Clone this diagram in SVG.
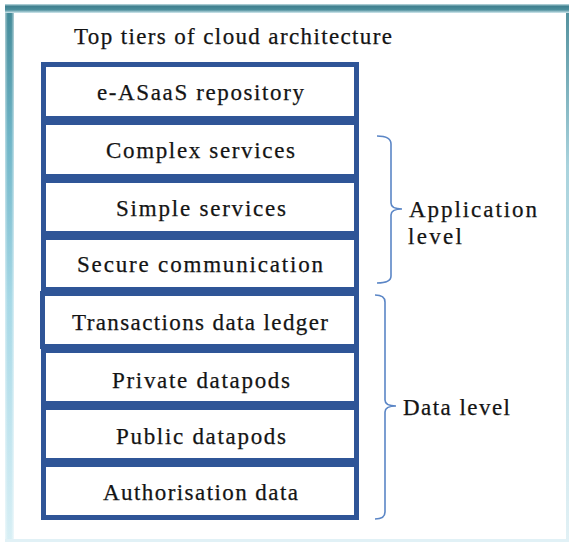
<svg xmlns="http://www.w3.org/2000/svg" width="571" height="544" viewBox="0 0 571 544">
  <defs>
    <linearGradient id="topBand" x1="0" y1="0" x2="0" y2="1">
      <stop offset="0" stop-color="#c4dfe4"/>
      <stop offset="0.25" stop-color="#3f808f"/>
      <stop offset="0.65" stop-color="#4d8f9d"/>
      <stop offset="1" stop-color="#d3e9ee"/>
    </linearGradient>
    <linearGradient id="leftBand" x1="0" y1="0" x2="0" y2="1">
      <stop offset="0" stop-color="#428896"/>
      <stop offset="0.25" stop-color="#6fb5c7"/>
      <stop offset="0.55" stop-color="#a6d8e6"/>
      <stop offset="1" stop-color="#d8eff5"/>
    </linearGradient>
    <linearGradient id="leftShade" x1="0" y1="0" x2="1" y2="0">
      <stop offset="0" stop-color="#ffffff" stop-opacity="0.55"/>
      <stop offset="0.3" stop-color="#ffffff" stop-opacity="0"/>
      <stop offset="0.7" stop-color="#ffffff" stop-opacity="0"/>
      <stop offset="1" stop-color="#ffffff" stop-opacity="0.6"/>
    </linearGradient>
    <linearGradient id="rightBand" x1="0" y1="0" x2="0" y2="1">
      <stop offset="0" stop-color="#4f8e9b"/>
      <stop offset="0.3" stop-color="#a9d3dd"/>
      <stop offset="1" stop-color="#e2f1f5"/>
    </linearGradient>
    <style>
      .tier rect { fill: #ffffff; stroke: #2f5597; stroke-width: 5; }
      .label { font-family: "Liberation Serif", "Times New Roman", serif; font-size: 23px; fill: #141414; stroke: #141414; stroke-width: 0.25; }
      .brace { fill: none; stroke: #5b86c6; stroke-width: 1.6; }
    </style>
  </defs>

  <!-- page background and frame -->
  <rect x="0" y="0" width="571" height="544" fill="#ffffff"/>
  <g id="frame">
    <rect x="5" y="4" width="9" height="538" fill="url(#leftBand)"/>
    <rect x="5" y="4" width="9" height="538" fill="url(#leftShade)"/>
    <rect x="566" y="4" width="3" height="538" fill="url(#rightBand)"/>
    <rect x="5" y="539" width="564" height="3" fill="#e1f1f6"/>
    <rect x="5" y="4" width="564" height="9" fill="url(#topBand)"/>
  </g>

  <text id="title" class="label" x="74" y="44" textLength="318" lengthAdjust="spacing">Top tiers of cloud architecture</text>

  <!-- stacked tiers -->
  <g id="tier-easaas" class="tier">
    <rect x="43.5" y="64.5" width="313" height="54"/>
    <text class="label" x="97" y="100" textLength="207" lengthAdjust="spacing">e-ASaaS repository</text>
  </g>
  <g id="tier-complex" class="tier">
    <rect x="43.5" y="122.5" width="313" height="54"/>
    <text class="label" x="106" y="158" textLength="189" lengthAdjust="spacing">Complex services</text>
  </g>
  <g id="tier-simple" class="tier">
    <rect x="43.5" y="180.5" width="313" height="53"/>
    <text class="label" x="116" y="216" textLength="170" lengthAdjust="spacing">Simple services</text>
  </g>
  <g id="tier-secure" class="tier">
    <rect x="43.5" y="237.5" width="313" height="52"/>
    <text class="label" x="77" y="272" textLength="246" lengthAdjust="spacing">Secure communication</text>
  </g>
  <g id="tier-ledger" class="tier">
    <rect x="42.5" y="293.5" width="314" height="53"/>
    <text class="label" x="72" y="330" textLength="256" lengthAdjust="spacing">Transactions data ledger</text>
  </g>
  <g id="tier-private" class="tier">
    <rect x="43.5" y="350.5" width="313" height="53"/>
    <text class="label" x="112" y="388" textLength="178" lengthAdjust="spacing">Private datapods</text>
  </g>
  <g id="tier-public" class="tier">
    <rect x="43.5" y="407.5" width="313" height="53"/>
    <text class="label" x="116" y="444" textLength="170" lengthAdjust="spacing">Public datapods</text>
  </g>
  <g id="tier-auth" class="tier">
    <rect x="43.5" y="464.5" width="313" height="53"/>
    <text class="label" x="103" y="500" textLength="195" lengthAdjust="spacing">Authorisation data</text>
  </g>

  <!-- level braces -->
  <g id="braces">
    <path class="brace" d="M377,136 Q391,136 391,144 L391,203 Q391,209 402,209 Q391,209 391,215 L391,276 Q391,283 377,283"/>
    <path class="brace" d="M375,295 Q385,295 385,302 L385,400 Q385,406 396,406 Q385,406 385,412 L385,512 Q385,519 375,519"/>
  </g>

  <g id="level-application">
    <text class="label" x="409" y="217" textLength="128" lengthAdjust="spacing">Application</text>
    <text class="label" x="408" y="244" textLength="54" lengthAdjust="spacing">level</text>
  </g>
  <g id="level-data">
    <text class="label" x="403" y="415" textLength="107" lengthAdjust="spacing">Data level</text>
  </g>
</svg>
